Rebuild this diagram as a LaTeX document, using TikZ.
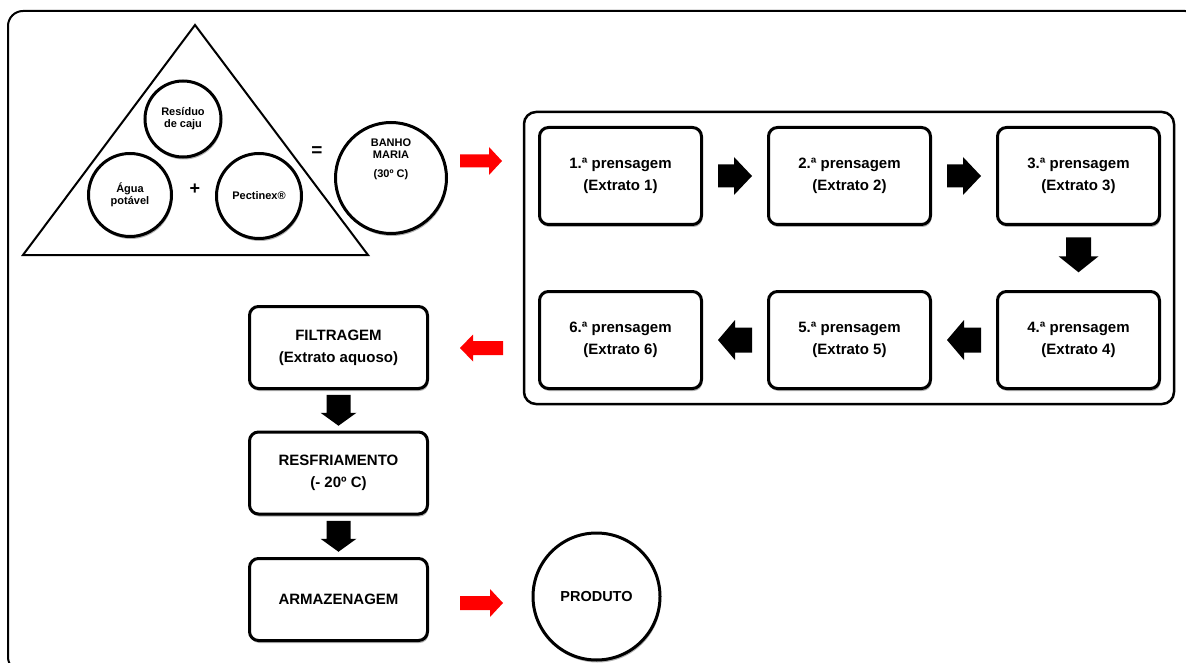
\documentclass[tikz,border=0pt]{standalone}
\usepackage{fontspec}
\setmainfont{Liberation Sans}
\usetikzlibrary{shadows,calc}
\begin{document}
\begin{tikzpicture}[x=1pt,y=-1pt,
  shd/.style={drop shadow={shadow xshift=1pt,shadow yshift=-2.5pt,opacity=0.3,fill=black}},
  stepbox/.style={draw,line width=3pt,rounded corners=9pt,fill=white,shd,
    minimum width=162pt,minimum height=97pt,align=center,inner sep=0pt,
    font=\fontsize{15}{22}\selectfont\bfseries},
  procbox/.style={stepbox,minimum width=178pt,minimum height=82pt},
  smallcirc/.style={circle,draw,line width=3pt,fill=white,shd,align=center,inner sep=0pt,
    font=\fontsize{11}{12}\selectfont\bfseries},
  lbl/.style={align=center,inner sep=0pt,font=\fontsize{11}{12}\selectfont\bfseries},
  pics/barrow/.style n args={4}{code={
    \fill[pic actions] (-#1/2,-#4) -- (#1/2-#2,-#4) -- (#1/2-#2,-#3) -- (#1/2,0)
      -- (#1/2-#2,#3) -- (#1/2-#2,#4) -- (-#1/2,#4) -- cycle;}}
]
\useasboundingbox (0,0) rectangle (1186,663);
\begin{scope}
\clip (0,0) rectangle (1186,663);
\draw[line width=2pt,rounded corners=15pt] (8,11) rectangle (1200,672);
\end{scope}

% triangle with ingredients
\draw[line width=2pt,line join=miter] (195,25) -- (368,255) -- (23,255) -- cycle;
\node[smallcirc,minimum size=76pt] (res) at (183,119) {Resíduo\\de caju};
\node[smallcirc,minimum size=83pt] (agua) at (130,195) {Água\\potável};
\node[smallcirc,minimum size=85pt] (pect) at (259,196) {Pectinex®};
\node[font=\fontsize{18}{18}\selectfont\bfseries,inner sep=0pt] (plus) at (195,189) {+};
\node[font=\fontsize{19}{19}\selectfont\bfseries,inner sep=0pt] (eq) at (317,152) {=};
\node[smallcirc,minimum size=111pt] (banho) at (391,178) {};
\node[lbl] (banhotxt) at (391,159) {BANHO\\MARIA\\[7pt](30º C)};

% container
\node[draw,line width=2.5pt,rounded corners=12pt,minimum width=650pt,minimum height=292pt,inner sep=0pt]
  (cont) at (849,258) {};

\node[stepbox] (b1) at (620.5,176) {1.ª prensagem\\(Extrato 1)};
\node[stepbox] (b2) at (849.5,176) {2.ª prensagem\\(Extrato 2)};
\node[stepbox] (b3) at (1078.5,176) {3.ª prensagem\\(Extrato 3)};
\node[stepbox] (b4) at (1078.5,340) {4.ª prensagem\\(Extrato 4)};
\node[stepbox] (b5) at (849.5,340) {5.ª prensagem\\(Extrato 5)};
\node[stepbox] (b6) at (620.5,340) {6.ª prensagem\\(Extrato 6)};

\pic[fill=black] at ($(b1.east)!0.5!(b2.west)$) {barrow={34}{18}{19}{11.5}};
\pic[fill=black] at ($(b2.east)!0.5!(b3.west)$) {barrow={34}{18}{19}{11.5}};
\pic[fill=black,rotate=-90] at ($(b3.south)!0.45!(b4.north)$) {barrow={35}{16}{20}{12.5}};
\pic[fill=black,rotate=180] at ($(b4.west)!0.5!(b5.east)$) {barrow={34}{17}{20}{12.5}};
\pic[fill=black,rotate=180] at ($(b5.west)!0.5!(b6.east)$) {barrow={34}{17}{20}{12.5}};

% left column
\node[procbox] (filt) at (338.5,347.5) {FILTRAGEM\\(Extrato aquoso)};
\node[procbox] (resf) at (338.5,473) {RESFRIAMENTO\\(- 20º C)};
\node[procbox] (arm) at (338.5,599.5) {ARMAZENAGEM};
\node[circle,draw,line width=3pt,fill=white,shd,minimum size=127pt,inner sep=0pt,
  font=\fontsize{14.5}{16}\selectfont\bfseries] (prod) at (596.5,596.5) {PRODUTO};

\pic[fill=black,rotate=-90] at ($(filt.south)!0.5!(resf.north)$) {barrow={31}{13}{18}{12}};
\pic[fill=black,rotate=-90] at ($(resf.south)!0.5!(arm.north)$) {barrow={31}{13}{18}{12}};

% red arrows
\pic[fill=red] at (481,161) {barrow={42}{13}{14}{6.5}};
\pic[fill=red,rotate=180] at (481.5,348) {barrow={43}{13}{13.5}{7}};
\pic[fill=red] at (481.5,603) {barrow={43}{13}{14}{7}};
\end{tikzpicture}
\end{document}
